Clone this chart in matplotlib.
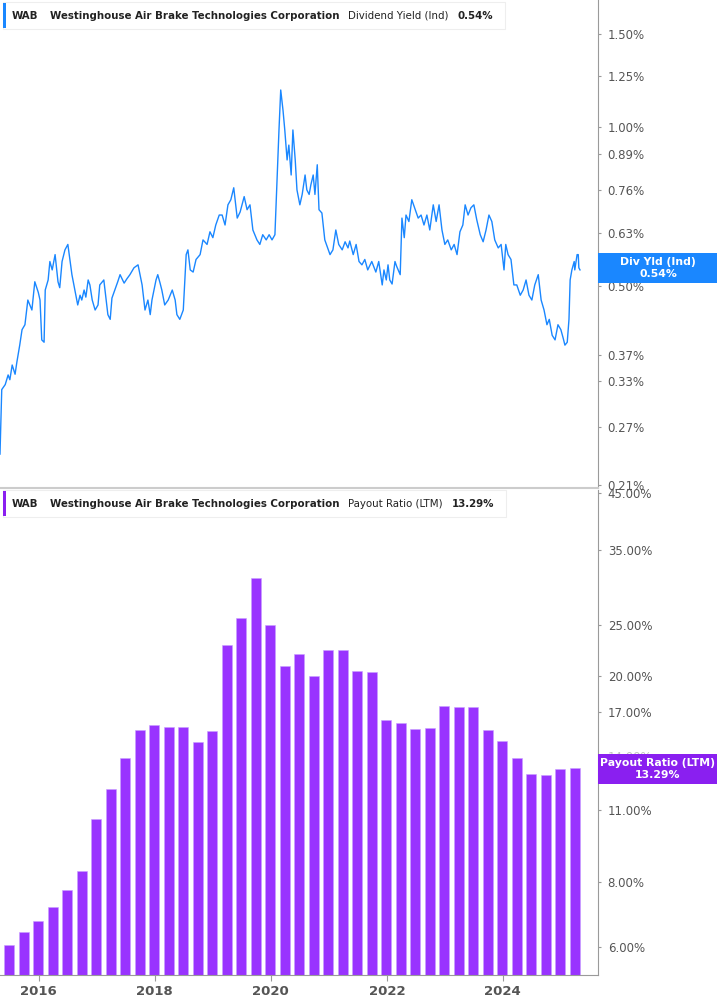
import numpy as np
import matplotlib
matplotlib.use("Agg")
import matplotlib.pyplot as plt
from matplotlib.ticker import FixedLocator, NullLocator

# ---------------- data ----------------
yield_start = 2015.33
yield_offsets = [0,.03,.09,.14,.17,.21,.26,.29,.34,.38,.43,.48,.55,.60,.66,.69,.72,.76,.78,.83,.86,.90,.95,1.00,1.03,1.07,1.12,1.17,1.21,1.24,1.29,1.34,1.38,1.41,1.45,1.48,1.52,1.55,1.59,1.64,1.69,1.72,1.79,1.86,1.90,1.93,1.98,2.03,2.07,2.14,2.19,2.24,2.31,2.38,2.45,2.50,2.55,2.59,2.62,2.69,2.72,2.76,2.79,2.84,2.90,2.97,3.02,3.05,3.10,3.16,3.21,3.24,3.28,3.33,3.38,3.45,3.50,3.57,3.62,3.67,3.72,3.78,3.83,3.88,3.93,3.98,4.03,4.09,4.14,4.21,4.26,4.31,4.36,4.43,4.48,4.53,4.59,4.64,4.69,4.74,4.78,4.81,4.84,4.88,4.91,4.95,4.98,5.02,5.05,5.09,5.12,5.17,5.21,5.26,5.29,5.33,5.36,5.40,5.43,5.47,5.50,5.55,5.60,5.66,5.69,5.74,5.79,5.84,5.90,5.95,6.00,6.03,6.09,6.14,6.19,6.24,6.29,6.34,6.41,6.48,6.53,6.59,6.62,6.66,6.69,6.72,6.76,6.81,6.84,6.90,6.93,6.97,7.00,7.05,7.10,7.16,7.21,7.26,7.31,7.36,7.41,7.47,7.52,7.57,7.62,7.67,7.72,7.78,7.83,7.88,7.93,7.98,8.02,8.07,8.12,8.17,8.22,8.28,8.33,8.38,8.43,8.48,8.53,8.59,8.64,8.69,8.72,8.76,8.81,8.86,8.91,8.97,9.02,9.07,9.12,9.17,9.22,9.28,9.33,9.38,9.43,9.47,9.52,9.57,9.62,9.67,9.71,9.74,9.78,9.81,9.83,9.86,9.90,9.91,9.95,9.97,9.98,10.00]
div_yield = [0.240,0.318,0.325,0.339,0.332,0.354,0.340,0.358,0.386,0.413,0.422,0.470,0.450,0.509,0.486,0.470,0.395,0.391,0.491,0.513,0.556,0.536,0.573,0.509,0.496,0.556,0.585,0.599,0.556,0.525,0.491,0.460,0.480,0.470,0.491,0.476,0.513,0.502,0.470,0.450,0.460,0.502,0.513,0.441,0.432,0.474,0.491,0.509,0.525,0.506,0.516,0.525,0.541,0.548,0.502,0.450,0.470,0.441,0.470,0.513,0.525,0.506,0.491,0.460,0.470,0.491,0.470,0.441,0.432,0.450,0.573,0.585,0.536,0.531,0.561,0.573,0.611,0.599,0.633,0.617,0.652,0.681,0.681,0.652,0.712,0.728,0.767,0.672,0.690,0.738,0.697,0.712,0.638,0.611,0.599,0.625,0.611,0.625,0.611,0.625,0.811,0.987,1.175,1.074,0.987,0.866,0.924,0.811,0.987,0.866,0.760,0.712,0.745,0.811,0.760,0.745,0.777,0.811,0.745,0.848,0.697,0.687,0.611,0.585,0.573,0.585,0.638,0.599,0.585,0.606,0.590,0.608,0.573,0.599,0.556,0.548,0.561,0.536,0.556,0.531,0.556,0.502,0.536,0.513,0.548,0.513,0.504,0.556,0.544,0.525,0.672,0.617,0.681,0.662,0.728,0.697,0.672,0.681,0.652,0.681,0.638,0.712,0.662,0.712,0.638,0.599,0.611,0.585,0.599,0.573,0.633,0.652,0.712,0.681,0.703,0.712,0.667,0.625,0.606,0.638,0.681,0.662,0.611,0.590,0.599,0.536,0.599,0.573,0.561,0.502,0.502,0.480,0.491,0.513,0.480,0.470,0.502,0.525,0.470,0.450,0.422,0.432,0.403,0.395,0.422,0.413,0.398,0.386,0.391,0.432,0.513,0.536,0.556,0.536,0.573,0.573,0.541,0.536]

payout_start = 2015.49
payout_ratio = [6.05,6.41,6.74,7.16,7.74,8.42,10.6,12.1,13.9,15.7,16.05,15.9,15.9,14.9,15.65,22.9,25.8,30.9,25.0,20.9,22.0,20.0,22.4,22.4,20.4,20.3,16.4,16.2,15.8,15.85,17.5,17.4,17.4,15.75,15.0,13.9,12.95,12.9,13.2,13.29]

yield_ticks = [0.21,0.27,0.33,0.37,0.50,0.63,0.76,0.89,1.00,1.25,1.50]
payout_ticks = [6,8,11,14,17,20,25,35,45]
year_ticks = [2016,2018,2020,2022,2024]

LINE = "#1a87ff"
BAR = "#9933ff"
GRID = "#9a9a9a"
TXT = "#555555"

W, H = 717, 1005
fig = plt.figure(figsize=(W/100, H/100), dpi=100)
ax1 = fig.add_axes([0, 1-488/H, 598/W, 488/H])
ax2 = fig.add_axes([0, 1-975/H, 598/W, 485/H])

xmin, xmax = 2015.33, 2015.33 + 598/58

def style(ax, ticks):
    ax.set_yscale("log")
    for s in ["top", "left"]:
        ax.spines[s].set_visible(False)
    ax.spines["right"].set_color(GRID)
    ax.spines["bottom"].set_color("#cccccc")
    ax.yaxis.tick_right()
    ax.yaxis.set_major_locator(FixedLocator(ticks))
    ax.yaxis.set_minor_locator(NullLocator())
    ax.set_yticklabels([f"{t:.2f}%" for t in ticks])
    ax.tick_params(axis="y", colors=GRID, labelcolor=TXT, labelsize=8.5, length=2, pad=5)
    ax.set_xlim(xmin, xmax)

# top panel
yx = yield_start + np.array(yield_offsets)
ax1.plot(yx, div_yield, color=LINE, lw=1)
style(ax1, yield_ticks)
ax1.set_ylim(0.207, 1.74)
ax1.set_xticks([])
ax1.spines["bottom"].set_linewidth(1.5)

# bottom panel
bx = payout_start + 0.25*np.arange(len(payout_ratio))
ax2.bar(bx, payout_ratio, width=0.17, color=BAR, edgecolor="#c9a0ff", linewidth=0.4)
style(ax2, payout_ticks)
ax2.set_ylim(5.3, 45.6)
ax2.set_xticks(year_ticks)
ax2.set_xticklabels([str(y) for y in year_ticks])
ax2.tick_params(axis="x", colors=GRID, labelcolor=TXT, labelsize=9.5, length=4)
for l in ax2.get_xticklabels():
    l.set_fontweight("bold")
ax2.spines["bottom"].set_color(GRID)

renderer = fig.canvas.get_renderer()

# header boxes
def header(y_px, label, val, col):
    yy = 1 - y_px/H
    parts = [("WAB", "bold", 12), ("Westinghouse Air Brake Technologies Corporation", "bold", 50),
             (label, "normal", 347), (val, "bold", None)]
    x = 12
    for txt, wgt, xs in parts:
        if xs is not None:
            x = max(x, xs)
        t = fig.text(x/W, yy, txt, fontsize=8.2, fontweight=wgt, color="#222222", va="center",
                     fontstretch="condensed", zorder=5)
        bb = t.get_window_extent(renderer)
        x = x + bb.width + 9
    x1 = x + 2
    fig.patches.append(plt.Rectangle((3/W, 1-(y_px+13)/H), (x1-3)/W, 27/H, transform=fig.transFigure,
                                     facecolor="white", edgecolor="#eeeeee", lw=0.8, zorder=4))
    fig.patches.append(plt.Rectangle((3/W, 1-(y_px+12)/H), 3/W, 25/H, transform=fig.transFigure,
                                     facecolor=col, edgecolor="none", zorder=4.5))

header(16, "Dividend Yield (Ind)", "0.54%", LINE)
header(504, "Payout Ratio (LTM)", "13.29%", "#8a1ff0")

# right badges
def badge(y0, y1, col, l1, l2):
    fig.patches.append(plt.Rectangle((598/W, 1-y1/H), 119/W, (y1-y0)/H, transform=fig.transFigure,
                                     facecolor=col, edgecolor="none", zorder=4))
    cy = 1 - (y0+y1)/2/H
    fig.text(658/W, cy + 6/H, l1, color="white", fontsize=7.8, fontweight="bold", ha="center", va="center", zorder=5)
    fig.text(658/W, cy - 6/H, l2, color="white", fontsize=7.8, fontweight="bold", ha="center", va="center", zorder=5)

badge(253, 283, LINE, "Div Yld (Ind)", "0.54%")
badge(754, 784, "#8a1ff0", "Payout Ratio (LTM)", "13.29%")

# hide the 14.00% label behind the badge like the reference
ax2.yaxis.get_major_ticks()[3].label2.set_alpha(0.35)

fig.savefig("out.png", dpi=100)
